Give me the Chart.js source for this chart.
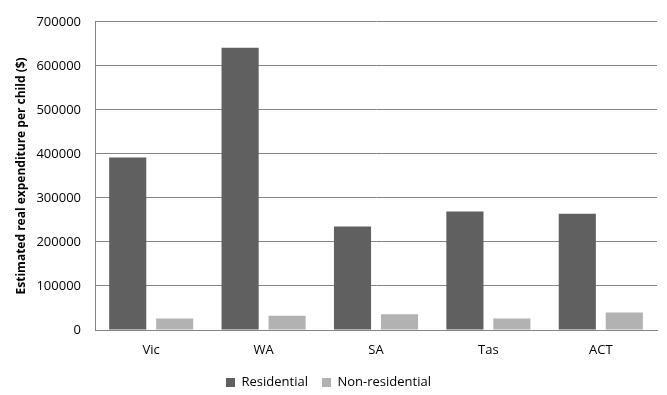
<!DOCTYPE html>
<html>
<head>
<meta charset="utf-8">
<script src="https://cdn.jsdelivr.net/npm/chart.js@4.4.1/dist/chart.umd.min.js"></script>
<style>
  html, body { margin: 0; padding: 0; background: #ffffff; }
  #wrap { width: 667px; height: 395px; position: relative; }
</style>
</head>
<body>
<div id="wrap"><canvas id="c" width="667" height="395"></canvas></div>
<script>
const categories = ["Vic", "WA", "SA", "Tas", "ACT"];
const residential = [392000, 641000, 235000, 269000, 264000];
const nonResidential = [26000, 32500, 35500, 26000, 40000];
const seriesNames = ["Residential", "Non-residential"];
const yTitle = "Estimated real expenditure per child ($)";

const FONT = "'Open Sans', 'DejaVu Sans', sans-serif";

new Chart(document.getElementById('c'), {
  type: 'bar',
  data: {
    labels: categories,
    datasets: [
      { label: seriesNames[0], data: residential, backgroundColor: '#606060', borderWidth: 0,
        categoryPercentage: 0.836, barPercentage: 0.79 },
      { label: seriesNames[1], data: nonResidential, backgroundColor: '#b2b2b2', borderWidth: 0,
        categoryPercentage: 0.836, barPercentage: 0.79 }
    ]
  },
  options: {
    responsive: false,
    animation: false,
    devicePixelRatio: 1,
    layout: { padding: { left: 0, right: 10, top: 13, bottom: -4 } },
    plugins: {
      tooltip: { enabled: false },
      legend: {
        position: 'bottom',
        labels: {
          boxWidth: 9, boxHeight: 9, padding: 14,
          color: '#000000',
          font: { family: FONT, size: 13 }
        }
      }
    },
    scales: {
      x: {
        grid: { display: false, drawTicks: false },
        border: { display: true, color: '#868686', width: 1 },
        ticks: { color: '#000000', padding: 12, font: { family: FONT, size: 13 } },
        afterFit: (s) => { s.height = 32; }
      },
      y: {
        min: 0, max: 700000,
        grid: { color: '#868686', lineWidth: 1, drawTicks: false },
        border: { display: true, color: '#868686', width: 1 },
        ticks: {
          stepSize: 100000, color: '#000000', padding: 14,
          font: { family: FONT, size: 13 },
          callback: (v) => String(v)
        },
        title: {
          display: true, text: yTitle, color: '#000000',
          padding: { top: 14, bottom: 0 },
          font: { family: FONT, size: 12, weight: 'bold' }
        },
        afterFit: (s) => { s.width = 95; }
      }
    }
  }
});
</script>
</body>
</html>
